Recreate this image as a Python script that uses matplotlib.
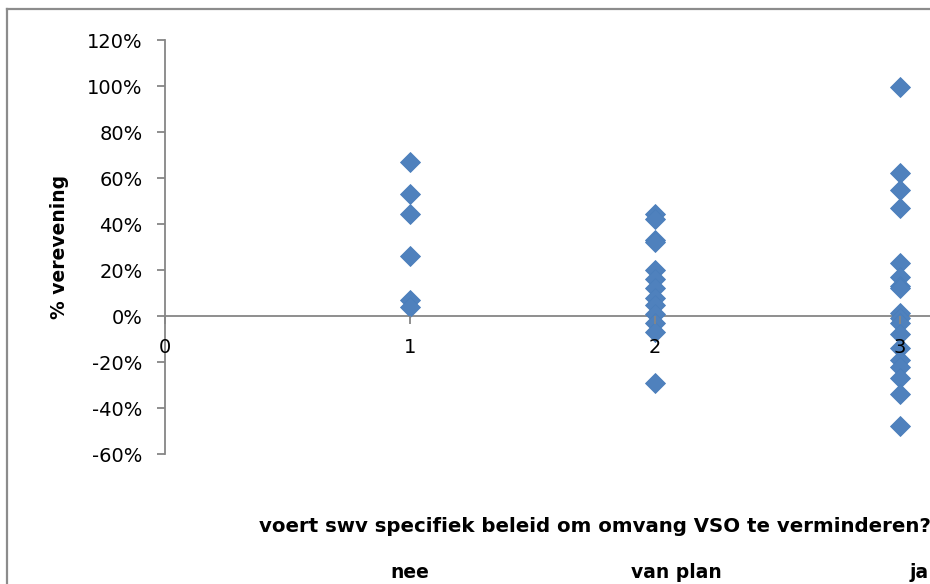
import matplotlib
matplotlib.use('Agg')
import matplotlib.pyplot as plt
from matplotlib.lines import Line2D
from matplotlib.ticker import PercentFormatter

# answer groups: 1 = nee, 2 = van plan, 3 = ja
nee = [0.67, 0.53, 0.445, 0.26, 0.07, 0.04]
van_plan = [0.445, 0.42, 0.33, 0.32, 0.20, 0.16, 0.12, 0.08, 0.05, 0.01,
            -0.03, -0.07, -0.29]
ja = [0.995, 0.62, 0.55, 0.47, 0.23, 0.17, 0.13, 0.12, 0.015, -0.01,
      -0.03, -0.08, -0.14, -0.19, -0.22, -0.27, -0.34, -0.48]
group_labels = ['nee', 'van plan', 'ja']

W, H = 930, 584
plt.rcParams['font.family'] = ['DejaVu Sans']
plt.rcParams['axes.unicode_minus'] = False
fig = plt.figure(figsize=(W / 100, H / 100), dpi=100)

# axes run past the right edge, like the cropped original
x0, x1 = 0, 3.5
px_per_unit = 245
ax = fig.add_axes([165 / W, 1 - 454 / H, (x1 - x0) * px_per_unit / W, (454 - 40) / H])

grey = '#868686'
blue = '#4F81BD'

xs = [1] * len(nee) + [2] * len(van_plan) + [3] * len(ja)
ys = nee + van_plan + ja
ax.plot(xs, ys, linestyle='none', marker='D', markersize=9.8,
        markerfacecolor=blue, markeredgecolor='#4A7EBB', markeredgewidth=0.6,
        clip_on=False, zorder=3)

ax.set_xlim(x0, x1)
ax.set_ylim(-0.6, 1.2)
ax.set_yticks([-0.6, -0.4, -0.2, 0, 0.2, 0.4, 0.6, 0.8, 1.0, 1.2])
ax.yaxis.set_major_formatter(PercentFormatter(1.0, decimals=0))
ax.set_xticks([0, 1, 2, 3])

for s in ['top', 'right']:
    ax.spines[s].set_visible(False)
ax.spines['bottom'].set_position(('data', 0))
for s in ['left', 'bottom']:
    ax.spines[s].set_color(grey)
    ax.spines[s].set_linewidth(1.3)
ax.patch.set_alpha(0)

ax.tick_params(axis='y', direction='out', length=6, width=1.3, color=grey,
               labelsize=14, pad=10)
ax.tick_params(axis='x', direction='out', length=6, width=1.3, color=grey,
               labelsize=14, pad=10)
# x labels sit on top of the markers, as in the original
ax.xaxis.set_zorder(4)

fig.text(59 / W, 1 - 247 / H, '% verevening', rotation=90, ha='center', va='center',
         fontsize=13.5, fontweight='bold')
fig.text(595 / W, 1 - 527 / H, 'voert swv specifiek beleid om omvang VSO te verminderen?',
         ha='center', va='center', fontsize=14.2, fontweight='bold')
fig.text(410 / W, 1 - 572 / H, group_labels[0], ha='center', va='center',
         fontsize=13.5, fontweight='bold')
fig.text(676 / W, 1 - 572 / H, group_labels[1], ha='center', va='center',
         fontsize=13.5, fontweight='bold')
fig.text(910 / W, 1 - 572 / H, group_labels[2], ha='left', va='center',
         fontsize=13.5, fontweight='bold')

# chart area border (left and top edges are all that show)
fig.add_artist(Line2D([7 / W, 7 / W], [0, 1 - 9 / H], color='#8c8c8c', lw=1.6))
fig.add_artist(Line2D([7 / W, 1], [1 - 9 / H, 1 - 9 / H], color='#8c8c8c', lw=1.6))

fig.savefig('out.png', dpi=100)
